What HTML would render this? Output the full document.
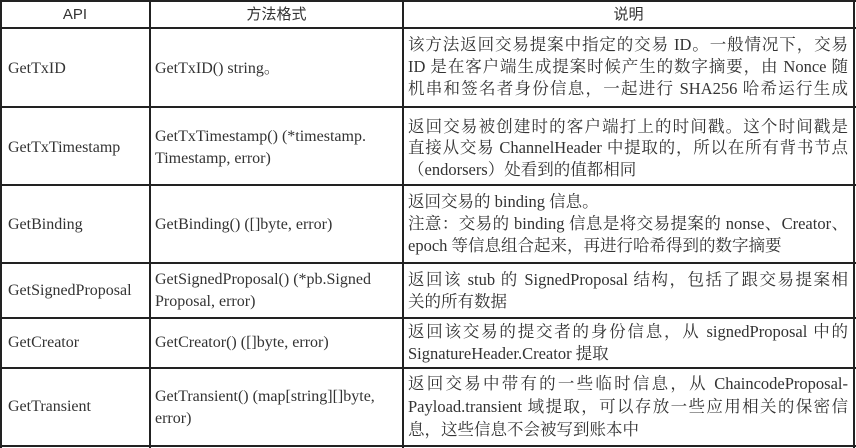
<!DOCTYPE html>
<html><head><meta charset="utf-8"><style>
body{margin:0;width:856px;height:448px;background:#fff;position:relative;overflow:hidden;font-family:"Liberation Serif","Noto Serif CJK SC",serif;font-size:16px;color:#333}
.t{position:absolute;white-space:nowrap;line-height:22px;height:22px}
.j{text-align:justify;text-align-last:justify;width:440px;white-space:normal}
.c{font-size:16.5px}
.h{font-family:"Liberation Sans","Noto Sans CJK SC",sans-serif;font-size:15px;text-align:center}
svg{position:absolute;left:0;top:0}
</style></head><body>
<svg width="856" height="448">
<g stroke="#222" stroke-width="2">
<line x1="0" y1="1" x2="856" y2="1"/>
<line x1="0" y1="28" x2="856" y2="28"/>
<line x1="0" y1="107" x2="856" y2="107"/>
<line x1="0" y1="185" x2="856" y2="185"/>
<line x1="0" y1="263" x2="856" y2="263"/>
<line x1="0" y1="318" x2="856" y2="318"/>
<line x1="0" y1="368" x2="856" y2="368"/>
<line x1="0" y1="446" x2="856" y2="446"/>
<line x1="1" y1="0" x2="1" y2="448"/>
<line x1="150" y1="0" x2="150" y2="448"/>
<line x1="403" y1="0" x2="403" y2="448"/>
<line x1="854" y1="0" x2="854" y2="448"/>
</g></svg>
<div class="t h" style="left:0;width:150px;top:4px">API</div>
<div class="t h" style="left:150px;width:253px;top:4px">方法格式</div>
<div class="t h" style="left:403px;width:451px;top:4px">说明</div>

<div class="t" style="left:8px;top:58px">GetTxID</div>
<div class="t" style="left:155px;top:58px">GetTxID() string。</div>
<div class="t j c" style="left:408px;top:34px">该方法返回交易提案中指定的交易 ID。一般情况下，交易</div>
<div class="t j c" style="left:408px;top:56px">ID 是在客户端生成提案时候产生的数字摘要，由 Nonce 随</div>
<div class="t j c" style="left:408px;top:78px">机串和签名者身份信息，一起进行 SHA256 哈希运行生成</div>

<div class="t" style="left:8px;top:137px">GetTxTimestamp</div>
<div class="t" style="left:155px;top:126px">GetTxTimestamp() (*timestamp.</div>
<div class="t" style="left:155px;top:148px">Timestamp, error)</div>
<div class="t j c" style="left:408px;top:116px">返回交易被创建时的客户端打上的时间戳。这个时间戳是</div>
<div class="t j c" style="left:408px;top:137px">直接从交易 ChannelHeader 中提取的，所以在所有背书节点</div>
<div class="t c" style="left:408px;top:159px">（endorsers）处看到的值都相同</div>

<div class="t" style="left:8px;top:214px">GetBinding</div>
<div class="t" style="left:155px;top:214px">GetBinding() ([]byte, error)</div>
<div class="t c" style="left:408px;top:191px">返回交易的 binding 信息。</div>
<div class="t j c" style="left:408px;top:213px">注意：交易的 binding 信息是将交易提案的 nonse、Creator、</div>
<div class="t c" style="left:408px;top:235px">epoch 等信息组合起来，再进行哈希得到的数字摘要</div>

<div class="t" style="left:8px;top:280px">GetSignedProposal</div>
<div class="t" style="left:155px;top:269px">GetSignedProposal() (*pb.Signed</div>
<div class="t" style="left:155px;top:291px">Proposal, error)</div>
<div class="t j c" style="left:408px;top:269px">返回该 stub 的 SignedProposal 结构，包括了跟交易提案相</div>
<div class="t c" style="left:408px;top:291px">关的所有数据</div>

<div class="t" style="left:8px;top:332px">GetCreator</div>
<div class="t" style="left:155px;top:332px">GetCreator() ([]byte, error)</div>
<div class="t j c" style="left:408px;top:321px">返回该交易的提交者的身份信息，从 signedProposal 中的</div>
<div class="t c" style="left:408px;top:343px">SignatureHeader.Creator 提取</div>

<div class="t" style="left:8px;top:396px">GetTransient</div>
<div class="t" style="left:155px;top:386px">GetTransient() (map[string][]byte,</div>
<div class="t" style="left:155px;top:408px">error)</div>
<div class="t j c" style="left:408px;top:373px">返回交易中带有的一些临时信息，从 ChaincodeProposal-</div>
<div class="t j c" style="left:408px;top:396px">Payload.transient 域提取，可以存放一些应用相关的保密信</div>
<div class="t c" style="left:408px;top:419px">息，这些信息不会被写到账本中</div>
</body></html>
